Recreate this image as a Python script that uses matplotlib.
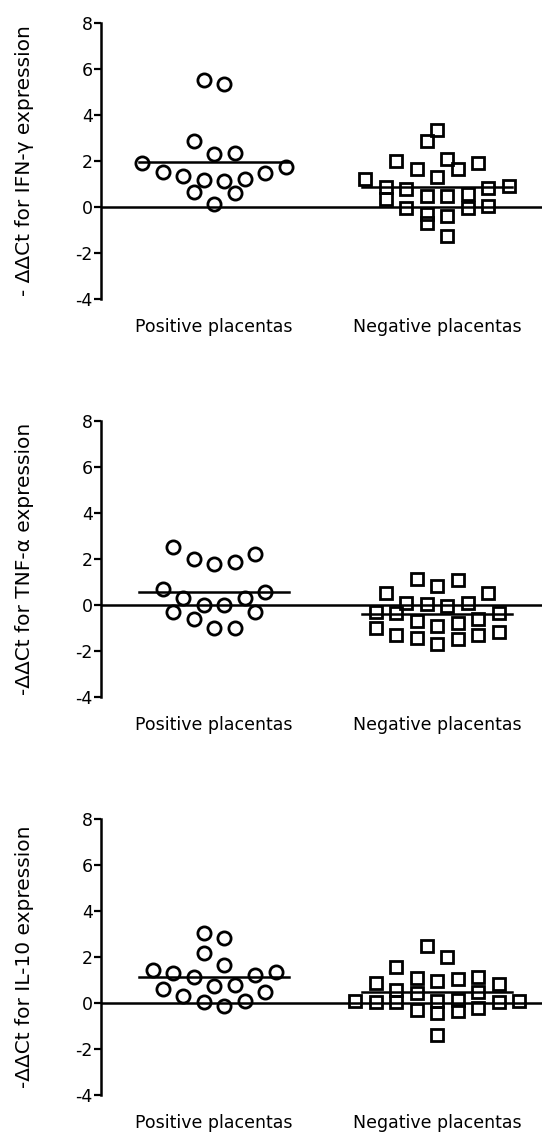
import numpy as np
import matplotlib
matplotlib.use("Agg")
import matplotlib.pyplot as plt

# ---------------- data ----------------
groups = ["Positive placentas", "Negative placentas"]
ylabels = ["- \u0394\u0394Ct for IFN-\u03b3 expression",
           "-\u0394\u0394Ct for TNF-\u03b1 expression",
           "-\u0394\u0394Ct for IL-10 expression"]
yticks = [-4, -2, 0, 2, 4, 6, 8]

ifng_pos = [5.54, 5.36, 2.87, 2.32, 2.35, 1.91, 1.74, 1.51, 1.48, 1.36,
            1.19, 1.13, 1.22, 0.67, 0.61, 0.12]
ifng_neg = [3.35, 2.87, 2.10, 2.00, 1.67, 1.93, 1.64, 1.20, 1.30, 0.88,
            0.80, 0.84, 0.91, 0.55, 0.50, 0.50, 0.33, -0.03, -0.03, 0.04,
            -0.32, -0.39, -0.68, -1.26]

tnfa_pos = [2.54, 1.99, 1.77, 1.87, 2.20, 0.68, 0.58, 0.29, 0.29, -0.01,
            -0.01, -0.30, -0.30, -0.62, -1.01, -0.99]
tnfa_neg = [1.12, 1.07, 0.83, 0.50, 0.50, 0.07, -0.05, 0.03, 0.07, -0.33,
            -0.30, -0.33, -0.60, -0.70, -0.80, -0.90, -0.98, -1.32, -1.42,
            -1.71, -1.46, -1.32, -1.17]

il10_pos = [3.06, 2.84, 2.19, 1.65, 1.43, 1.29, 1.12, 1.22, 1.36, 0.75,
            0.50, 0.80, 0.60, 0.30, 0.10, 0.05, -0.15]
il10_neg = [2.48, 2.01, 1.58, 1.07, 0.97, 0.86, 0.83, 1.03, 1.14, 0.55,
            0.50, 0.45, 0.10, 0.05, 0.05, 0.10, 0.05, 0.15, 0.10, -0.20,
            -0.30, -0.45, -0.35, -1.40]

panels = [(ifng_pos, ifng_neg), (tnfa_pos, tnfa_neg), (il10_pos, il10_neg)]

# ---------------- layout helpers ----------------
def swarm_offsets(vals, row_h, step, max_row=9):
    """Prism-like column scatter: group close values into rows and spread
    each row symmetrically, highest values placed outermost."""
    vals = np.asarray(vals, float)
    order = np.argsort(vals, kind="stable")
    offs = np.zeros(len(vals))
    rows, cur, start = [], [order[0]], vals[order[0]]
    for i in order[1:]:
        if vals[i] - start <= row_h and len(cur) < max_row:
            cur.append(i)
        else:
            rows.append(cur)
            cur, start = [i], vals[i]
    rows.append(cur)
    for r in rows:
        n = len(r)
        slots = (np.arange(n) - (n - 1) / 2.0) * step
        r_sorted = sorted(r, key=lambda k: -vals[k])
        left = list(slots[: n // 2])
        right = list(slots[(n + 1) // 2:])[::-1]
        seq = []
        for k in range(n // 2):
            seq += [left[k], right[k]]
        if n % 2:
            seq.append(slots[n // 2])
        for k, o in zip(r_sorted, seq):
            offs[k] = o
    return offs

plt.rcParams['font.family'] = ['DejaVu Sans']

W, H = 542, 1138
fig = plt.figure(figsize=(W / 100, H / 100), dpi=100)

ax_left_px = 101
px_per_x = 223.0
xlo = 1 - (214 - ax_left_px) / px_per_x
xhi = 2 + (W - 437) / px_per_x
step = 20.5 / px_per_x
half_w = 75 / px_per_x
row_h = 0.78

for k, (pos, neg) in enumerate(panels):
    zero_px = 207 + 398 * k
    top_px = zero_px - 8 * 23
    bot_px = zero_px + 4 * 23
    ax = fig.add_axes([ax_left_px / W, 1 - bot_px / H,
                       (W - ax_left_px) / W, (bot_px - top_px) / H])
    ax.set_xlim(xlo, xhi)
    ax.set_ylim(-4, 8)
    for side in ("top", "right", "bottom"):
        ax.spines[side].set_visible(False)
    ax.spines["left"].set_linewidth(1.8)
    ax.set_yticks(yticks)
    ax.set_yticklabels([str(t) for t in yticks])
    ax.tick_params(axis="y", length=5, width=1.6, labelsize=12.5, pad=1)
    ax.set_xticks([1, 2])
    ax.set_xticklabels(groups)
    ax.tick_params(axis="x", length=0, labelsize=12.5, pad=14)

    ax.axhline(0, color="black", lw=1.8, zorder=1)

    for gi, (vals, mk) in enumerate([(pos, "o"), (neg, "s")]):
        xc = gi + 1
        offs = swarm_offsets(vals, row_h, step)
        ax.plot(xc + offs, vals, linestyle="none", marker=mk,
                markersize=9.5 if mk == "o" else 8.8,
                markerfacecolor="none", markeredgecolor="black",
                markeredgewidth=2.0, zorder=3, clip_on=False)
        m = float(np.mean(vals))
        ax.plot([xc - half_w, xc + half_w], [m, m], color="black", lw=1.8,
                zorder=2)

    # rotated axis title, centred on the axis
    fig.text(25 / W, 1 - (top_px + bot_px) / 2 / H, ylabels[k],
             rotation=90, ha="center", va="center", fontsize=14.5)

fig.savefig("out.png", dpi=100)
